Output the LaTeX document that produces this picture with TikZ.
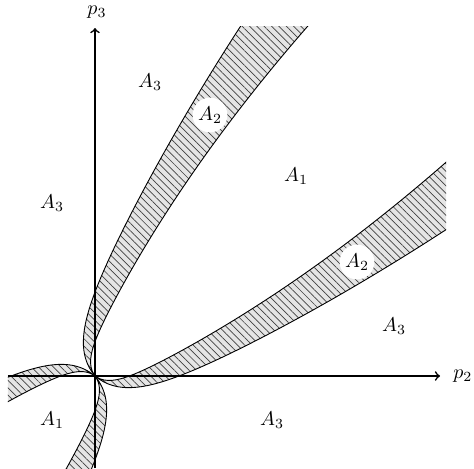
\documentclass[tikz,border=0pt]{standalone}
\usetikzlibrary{patterns.meta}
\tikzset{
  declare function={
    hf(\s)=6.11*\s*\s+44.52*\s-17.8*(1-exp(-6.667*\s));
    gf(\s)=3.42*\s*\s+41*\s-39.7*(1-exp(-3.125*\s));
  },
  band/.style={fill=gray!20},
  hatch/.style={pattern={Lines[angle=-45,distance=2.6pt,line width=0.35pt]}, pattern color=black!75},
  edge/.style={draw=black, line width=0.45pt},
  axis/.style={->, thick},
  lab/.style={inner sep=1pt},
  circlab/.style={circle, fill=white, inner sep=1pt},
}
\begin{document}
\begin{tikzpicture}[x=0.5pt,y=0.5pt]
\useasboundingbox (-95,-92) rectangle (379,376);
\begin{scope}
\clip (-87,-92) rectangle (351,350);
% lower band: upper edge U, lower edge L
\def\bandL{plot[domain=-1.1:0,samples=40] ({100*\x},{-gf(-\x)})
  -- plot[domain=0:3.85,samples=90] ({100*\x},{hf(\x)})
  -- plot[domain=3.85:0,samples=90] ({100*\x},{gf(\x)})
  -- plot[domain=0:-1.1,samples=40] ({100*\x},{-hf(-\x)}) -- cycle}
\def\bandU{plot[domain=-1.1:0,samples=40] ({-gf(-\x)},{100*\x})
  -- plot[domain=0:3.85,samples=90] ({hf(\x)},{100*\x})
  -- plot[domain=3.85:0,samples=90] ({gf(\x)},{100*\x})
  -- plot[domain=0:-1.1,samples=40] ({-hf(-\x)},{100*\x}) -- cycle}
\fill[band] \bandL;
\fill[hatch] \bandL;
\fill[band] \bandU;
\fill[hatch] \bandU;
\draw[edge] \bandL;
\draw[edge] \bandU;
\end{scope}
% axes
\coordinate (xs) at (-87,0);
\coordinate (xe) at (345,0);
\coordinate (ys) at (0,-92);
\coordinate (ye) at (0,348);
\draw[axis] (xs) -- (xe);
\draw[axis] (ys) -- (ye);
\node[lab, anchor=west] (p2) at (356,0) {$p_2$};
\node[lab] (p3) at (2,364) {$p_3$};
% region labels
\node[lab] (a3t) at (55,294) {$A_3$};
\node[circlab] (a2t) at (115,261) {$A_2$};
\node[lab] (a1u) at (201,200) {$A_1$};
\node[lab] (a3l) at (-43,173) {$A_3$};
\node[circlab] (a2l) at (262,114) {$A_2$};
\node[lab] (a3r) at (299,50) {$A_3$};
\node[lab] (a1l) at (-43,-44) {$A_1$};
\node[lab] (a3b) at (177,-44) {$A_3$};
\end{tikzpicture}
\end{document}
